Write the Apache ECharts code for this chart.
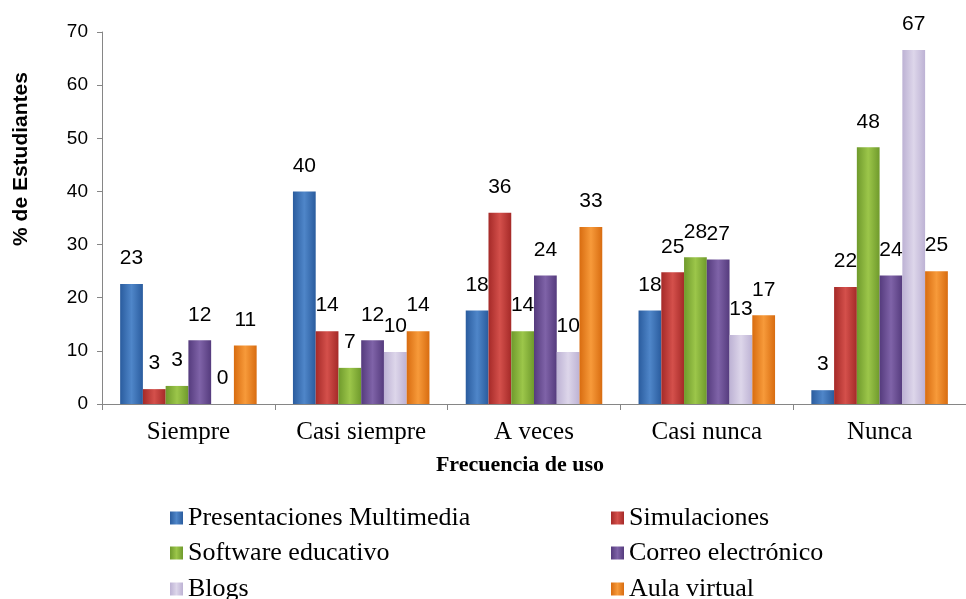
<!DOCTYPE html>
<html>
<head>
<meta charset="utf-8">
<script src="https://cdn.jsdelivr.net/npm/echarts@6/dist/echarts.min.js"></script>
<style>
  html, body { margin: 0; padding: 0; background: #fff; }
  #chart { width: 966px; height: 599px; }
</style>
</head>
<body>
<div id="chart"></div>
<script>
// frecuencia de uso (eje x)
const categories = ['Siempre', 'Casi siempre', 'A veces', 'Casi nunca', 'Nunca']
const yTicks = [0, 10, 20, 30, 40, 50, 60, 70]

// % de estudiantes por herramienta
const presentaciones = [22.6, 40.0, 17.6, 17.6, 2.6]
const simulaciones = [2.8, 13.7, 36.0, 24.8, 22.0]
const software = [3.4, 6.8, 13.7, 27.6, 48.3]
const correo = [12.0, 12.0, 24.2, 27.2, 24.2]
const blogs = [0, 9.8, 9.8, 13.0, 66.6]
const aula = [11.0, 13.7, 33.3, 16.7, 25.0]

const seriesNames = [
  'Presentaciones Multimedia', 'Simulaciones', 'Software educativo',
  'Correo electrónico', 'Blogs', 'Aula virtual'
]
const seriesData = [presentaciones, simulaciones, software, correo, blogs, aula]
// [borde oscuro, centro claro]
const colors = [
  ['#2a5c9e', '#4f86c9'],
  ['#a52a28', '#d4504b'],
  ['#6f9a2c', '#9cc64a'],
  ['#553b7d', '#7f63a8'],
  ['#bdb2d4', '#ddd6ea'],
  ['#d86c10', '#f79a3a'],
]

function barColor(c) {
  return new echarts.graphic.LinearGradient(0, 0, 1, 0, [
    { offset: 0, color: c[0] },
    { offset: 0.5, color: c[1] },
    { offset: 1, color: c[0] },
  ])
}

const chart = echarts.init(document.getElementById('chart'))

const series = seriesNames.map((name, i) => ({
  name,
  type: 'bar',
  data: seriesData[i],
  barGap: '0%',
  barCategoryGap: '21%',
  itemStyle: { color: barColor(colors[i]) },
  label: {
    show: true,
    position: 'top',
    distance: 15,
    color: '#000',
    fontFamily: 'Liberation Sans',
    fontSize: 21,
    formatter: (p) => Math.round(p.value),
  },
}))

// leyenda en dos columnas, tres filas
const legendText = { fontFamily: 'Liberation Serif', fontSize: 26, color: '#000' }
const legendPos = [
  [165, 500], [606, 500],
  [165, 535], [606, 535],
  [165, 571], [606, 571],
]
const legends = seriesNames.map((name, i) => ({
  data: [name],
  left: legendPos[i][0],
  top: legendPos[i][1],
  itemWidth: 13,
  itemHeight: 13,
  itemGap: 4,
  icon: 'rect',
  textStyle: legendText,
}))

chart.setOption({
  animation: false,
  color: colors.map((c) => c[1]),
  grid: { left: 102, top: 32, width: 885, height: 372 },
  legend: legends,
  xAxis: {
    type: 'category',
    data: categories,
    name: 'Frecuencia de uso',
    nameLocation: 'middle',
    nameGap: 50,
    nameTextStyle: {
      fontFamily: 'Liberation Serif',
      fontWeight: 'bold',
      fontSize: 22,
      color: '#000',
      padding: [0, 28, 0, 0],
    },
    axisLine: { lineStyle: { color: '#868686', width: 1 } },
    axisTick: { show: true, alignWithLabel: false, length: 6, lineStyle: { color: '#868686' } },
    axisLabel: {
      interval: 0,
      margin: 16,
      fontFamily: 'Liberation Serif',
      fontSize: 25,
      color: '#000',
    },
  },
  yAxis: {
    type: 'value',
    min: yTicks[0],
    max: yTicks[yTicks.length - 1],
    interval: 10,
    name: '% de Estudiantes',
    nameLocation: 'middle',
    nameGap: 70,
    nameTextStyle: {
      fontFamily: 'Liberation Sans',
      fontWeight: 'bold',
      fontSize: 21,
      color: '#000',
      padding: [0, 0, 0, 118],
    },
    axisLine: { show: true, lineStyle: { color: '#868686', width: 1 } },
    axisTick: { show: true, length: 5, lineStyle: { color: '#868686' } },
    splitLine: { show: false },
    axisLabel: {
      margin: 14,
      fontFamily: 'Liberation Sans',
      fontSize: 19,
      color: '#000',
    },
  },
  series,
})
</script>
</body>
</html>
